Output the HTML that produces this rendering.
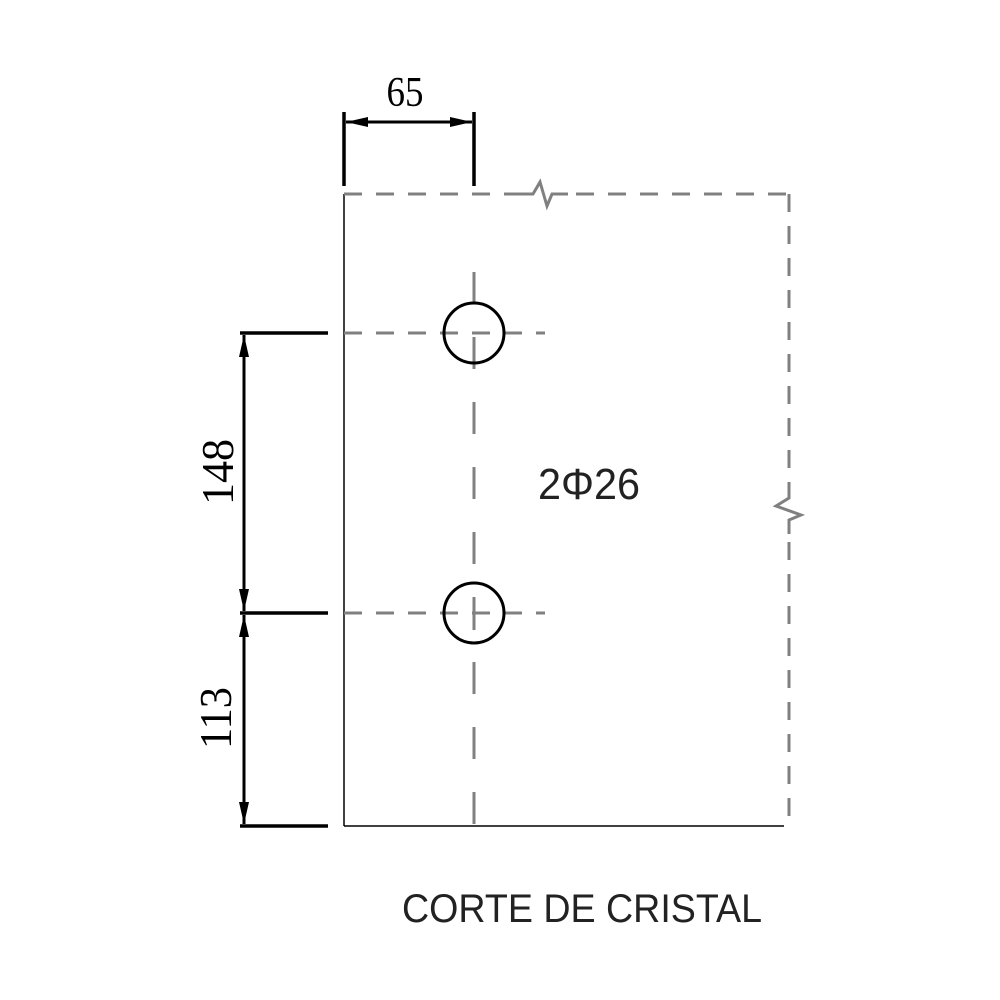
<!DOCTYPE html>
<html><head><meta charset="utf-8"><style>html,body{margin:0;padding:0;background:#fff}svg{display:block}</style></head>
<body>
<svg width="1000" height="1000" viewBox="0 0 1000 1000" xmlns="http://www.w3.org/2000/svg">
<defs>
<marker id="a" viewBox="0 0 22 10" refX="22" refY="5" markerWidth="22" markerHeight="10" markerUnits="userSpaceOnUse" orient="auto-start-reverse"><path d="M0,0 L22,5 L0,10 Z" fill="#000"/></marker>
</defs>
<line x1="344" y1="194" x2="344" y2="826" stroke="#000" stroke-width="1.5"/>
<line x1="344" y1="826" x2="784" y2="826" stroke="#000" stroke-width="1.5"/>
<g stroke="#808080" stroke-width="3" fill="none">
<path d="M344,194 H527" stroke-dasharray="18,14"/>
<path d="M522,194 H533 L540,182 L547,206 L552,194 H568"/>
<path d="M576,194 H789" stroke-dasharray="18,14"/>
<path d="M789,194 V488" stroke-dasharray="18,14"/>
<path d="M789,486 V498 L776,506 L801,515 L789,520 V534"/>
<path d="M789,542 V826" stroke-dasharray="18,14"/>
<line x1="474" y1="272" x2="474" y2="826" stroke-dasharray="32,33"/>
<line x1="344" y1="333" x2="545" y2="333" stroke-dasharray="18,14"/>
<line x1="344" y1="613" x2="545" y2="613" stroke-dasharray="18,14"/>
<line x1="474" y1="598" x2="474" y2="630"/>
</g>
<circle cx="474" cy="333" r="30" fill="none" stroke="#000" stroke-width="3"/>
<circle cx="474" cy="613" r="30" fill="none" stroke="#000" stroke-width="3"/>
<g stroke="#000" stroke-width="3.5">
<line x1="344" y1="112" x2="344" y2="186"/>
<line x1="474" y1="112" x2="474" y2="186"/>
<line x1="346" y1="122" x2="472" y2="122" marker-start="url(#a)" marker-end="url(#a)" stroke-width="3"/>
<line x1="240" y1="333" x2="328" y2="333"/>
<line x1="240" y1="613" x2="328" y2="613"/>
<line x1="240" y1="826" x2="328" y2="826"/>
<line x1="244" y1="335" x2="244" y2="611" marker-start="url(#a)" marker-end="url(#a)" stroke-width="3"/>
<line x1="244" y1="615" x2="244" y2="824" marker-start="url(#a)" marker-end="url(#a)" stroke-width="3"/>
</g>
<text x="405" y="106" font-family="Liberation Serif, serif" font-size="42" text-anchor="middle" textLength="37" lengthAdjust="spacingAndGlyphs">65</text>
<text transform="translate(233,472) rotate(-90)" font-family="Liberation Serif, serif" font-size="46" text-anchor="middle" textLength="66" lengthAdjust="spacingAndGlyphs">148</text>
<text transform="translate(231,718) rotate(-90)" font-family="Liberation Serif, serif" font-size="46" text-anchor="middle" textLength="62" lengthAdjust="spacingAndGlyphs">113</text>
<text x="538" y="499" font-family="Liberation Sans, DejaVu Sans, sans-serif" font-size="44" fill="#222" textLength="102" lengthAdjust="spacingAndGlyphs">2Φ26</text>
<text x="402" y="922" font-family="Liberation Sans, sans-serif" font-size="40" fill="#222" textLength="360" lengthAdjust="spacingAndGlyphs">CORTE DE CRISTAL</text>
</svg>
</body></html>
